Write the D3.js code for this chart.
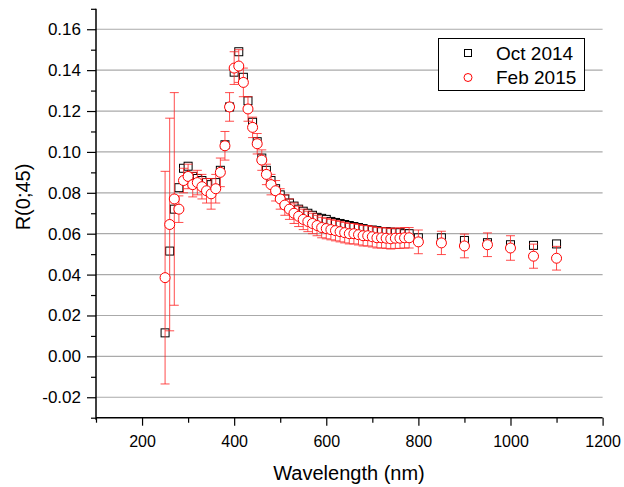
<!DOCTYPE html>
<html>
<head>
<meta charset="utf-8">
<script src="https://cdn.jsdelivr.net/npm/d3@7"></script>
<style>
  body { margin: 0; background: #fff; }
  text { font-family: Arial, "Liberation Sans", sans-serif; fill: #000; }
</style>
</head>
<body>
<div id="chart"></div>
<script>
// wavelengths (nm), shared by both series
const wavelengths = [250, 260, 270, 280, 290, 300, 310, 320, 330, 340, 350, 360, 370, 380, 390,
  400, 410, 420, 430, 440, 450, 460, 470, 480, 490, 500, 510, 520, 530, 540, 550, 560, 570, 580, 590,
  600, 610, 620, 630, 640, 650, 660, 670, 680, 690, 700, 710, 720, 730, 740, 750, 760, 770, 780,
  800, 850, 900, 950, 1000, 1050, 1100];

const oct2014 = [0.0115, 0.0515, 0.072, 0.0825, 0.092, 0.093, 0.088, 0.087, 0.086, 0.085, 0.084, 0.085, 0.091, 0.1035, 0.122,
  0.139, 0.149, 0.1365, 0.125, 0.1145, 0.105, 0.097, 0.091, 0.086, 0.082, 0.079, 0.077, 0.075, 0.0735, 0.072, 0.071, 0.070, 0.069, 0.068, 0.0675,
  0.067, 0.066, 0.0655, 0.065, 0.0645, 0.064, 0.0635, 0.063, 0.0625, 0.062, 0.0618, 0.0615, 0.061, 0.061, 0.0608, 0.0605, 0.0605, 0.060, 0.060,
  0.058, 0.058, 0.0567, 0.0556, 0.0546, 0.0543, 0.055];

const feb2015 = [0.0385, 0.0645, 0.077, 0.072, 0.086, 0.088, 0.084, 0.085, 0.083, 0.081, 0.0795, 0.082, 0.090, 0.103, 0.122,
  0.141, 0.142, 0.134, 0.121, 0.112, 0.104, 0.096, 0.089, 0.084, 0.081, 0.077, 0.074, 0.072, 0.070, 0.0685, 0.067, 0.066, 0.065, 0.064, 0.063,
  0.0625, 0.062, 0.0615, 0.061, 0.0605, 0.060, 0.060, 0.0595, 0.059, 0.059, 0.0585, 0.058, 0.058, 0.0578, 0.0575, 0.0578, 0.0578, 0.058, 0.058,
  0.056, 0.0555, 0.054, 0.0546, 0.053, 0.049, 0.048];

const feb2015Err = [0.052, 0.052, 0.052, 0.0065, 0.006, 0.006, 0.006, 0.006, 0.006, 0.006, 0.0075, 0.007, 0.007, 0.007, 0.007,
  0.008, 0.008, 0.007, 0.006, 0.005, 0.005, 0.005, 0.005, 0.005, 0.005, 0.005, 0.005, 0.005, 0.005, 0.005, 0.005, 0.005, 0.005, 0.005, 0.005,
  0.005, 0.005, 0.005, 0.005, 0.005, 0.005, 0.005, 0.005, 0.005, 0.005, 0.005, 0.005, 0.005, 0.005, 0.005, 0.005, 0.005, 0.005, 0.005,
  0.0058, 0.0057, 0.0058, 0.0058, 0.006, 0.0059, 0.0058];

const xTicks = [200, 400, 600, 800, 1000, 1200];
const xMinorTicks = [100, 300, 500, 700, 900, 1100];
const yTicks = [-0.02, 0.00, 0.02, 0.04, 0.06, 0.08, 0.10, 0.12, 0.14, 0.16];
const yMinorTicks = [-0.03, -0.01, 0.01, 0.03, 0.05, 0.07, 0.09, 0.11, 0.13, 0.15, 0.17];
const seriesNames = ['Oct 2014', 'Feb 2015'];

const WIDTH = 624;
const HEIGHT = 487;
const LEFT = 96;
const RIGHT = 602.6;
const TOP = 8.8;
const BOTTOM = 417.7;

const x = d3.scaleLinear().domain([100, 1200]).range([LEFT, RIGHT]);
const y = d3.scaleLinear().domain([-0.03, 0.17]).range([BOTTOM, TOP]);

// plain hyphen for negatives, like the original plot
const yFormat = d => d3.format('.2f')(d).replace('\u2212', '-');

const svg = d3.select('#chart')
  .append('svg')
  .attr('width', WIDTH)
  .attr('height', HEIGHT);

svg.append('rect').attr('width', WIDTH).attr('height', HEIGHT).attr('fill', '#fff');

// horizontal grid lines
svg.append('g')
  .selectAll('line')
  .data(yTicks)
  .enter()
  .append('line')
  .attr('x1', LEFT)
  .attr('x2', RIGHT)
  .attr('y1', d => y(d))
  .attr('y2', d => y(d))
  .attr('stroke', '#aaa')
  .attr('stroke-width', 1.2);

// axes (major + minor ticks)
const xAxis = svg.append('g')
  .attr('transform', `translate(0, ${BOTTOM})`)
  .call(d3.axisBottom(x).tickValues(xTicks).tickSize(8).tickPadding(10).tickFormat(d3.format('d')));
svg.append('g')
  .attr('transform', `translate(0, ${BOTTOM})`)
  .call(d3.axisBottom(x).tickValues(xMinorTicks).tickSize(5).tickFormat(''))
  .select('.domain').remove();

const yAxis = svg.append('g')
  .attr('transform', `translate(${LEFT}, 0)`)
  .call(d3.axisLeft(y).tickValues(yTicks).tickSize(9).tickPadding(6).tickFormat(yFormat));
svg.append('g')
  .attr('transform', `translate(${LEFT}, 0)`)
  .call(d3.axisLeft(y).tickValues(yMinorTicks).tickSize(5).tickFormat(''))
  .select('.domain').remove();

xAxis.selectAll('text').style('font-size', '16px').attr('fill', '#000');
yAxis.selectAll('text').style('font-size', '17px').attr('fill', '#000');
xAxis.select('.domain').remove();
yAxis.select('.domain').remove();
svg.selectAll('.tick line').attr('stroke', '#000').attr('stroke-width', 1.2);

svg.append('line')
  .attr('x1', LEFT).attr('x2', RIGHT)
  .attr('y1', BOTTOM).attr('y2', BOTTOM)
  .attr('stroke', '#000').attr('stroke-width', 1.5);
svg.append('line')
  .attr('x1', LEFT).attr('x2', LEFT)
  .attr('y1', TOP).attr('y2', BOTTOM + 2)
  .attr('stroke', '#000').attr('stroke-width', 1.5);

// axis titles
svg.append('text')
  .attr('x', 349)
  .attr('y', 480)
  .attr('text-anchor', 'middle')
  .style('font-size', '20px')
  .text('Wavelength (nm)');

svg.append('text')
  .attr('transform', 'rotate(-90)')
  .attr('x', -197)
  .attr('y', 30)
  .attr('text-anchor', 'middle')
  .style('font-size', '20px')
  .text('R(0;45)');

const octData = wavelengths.map((w, i) => ({w: w, v: oct2014[i]}));
const febData = wavelengths.map((w, i) => ({w: w, v: feb2015[i], e: feb2015Err[i]}));

// Oct 2014 squares
svg.append('g')
  .selectAll('rect')
  .data(octData)
  .enter()
  .append('rect')
  .attr('x', d => x(d.w) - 4)
  .attr('y', d => y(d.v) - 4)
  .attr('width', 8)
  .attr('height', 8)
  .attr('fill', '#fff')
  .attr('stroke', '#000')
  .attr('stroke-width', 1);

// Feb 2015 error bars
const err = svg.append('g')
  .attr('stroke', '#ff2020')
  .attr('stroke-opacity', 0.8)
  .attr('stroke-width', 1);

err.selectAll('line.bar')
  .data(febData)
  .enter()
  .append('line')
  .attr('class', 'bar')
  .attr('x1', d => x(d.w)).attr('x2', d => x(d.w))
  .attr('y1', d => y(d.v - d.e)).attr('y2', d => y(d.v + d.e));

err.selectAll('line.capTop')
  .data(febData)
  .enter()
  .append('line')
  .attr('class', 'capTop')
  .attr('x1', d => x(d.w) - 4.5).attr('x2', d => x(d.w) + 4.5)
  .attr('y1', d => y(d.v + d.e)).attr('y2', d => y(d.v + d.e));

err.selectAll('line.capBottom')
  .data(febData)
  .enter()
  .append('line')
  .attr('class', 'capBottom')
  .attr('x1', d => x(d.w) - 4.5).attr('x2', d => x(d.w) + 4.5)
  .attr('y1', d => y(d.v - d.e)).attr('y2', d => y(d.v - d.e));

// Feb 2015 circles
svg.append('g')
  .selectAll('circle')
  .data(febData)
  .enter()
  .append('circle')
  .attr('cx', d => x(d.w))
  .attr('cy', d => y(d.v))
  .attr('r', 5)
  .attr('fill', '#fff')
  .attr('stroke', '#ff0000')
  .attr('stroke-width', 1);

// legend
const legend = svg.append('g');
legend.append('rect')
  .attr('x', 438.5).attr('y', 38.5)
  .attr('width', 146).attr('height', 52)
  .attr('fill', '#fff')
  .attr('stroke', '#000')
  .attr('stroke-width', 1);

legend.append('rect')
  .attr('x', 464.5).attr('y', 49.5)
  .attr('width', 7).attr('height', 7)
  .attr('fill', '#fff').attr('stroke', '#000');
legend.append('circle')
  .attr('cx', 468).attr('cy', 77.5).attr('r', 4)
  .attr('fill', '#fff').attr('stroke', '#ff0000');

legend.selectAll('text')
  .data(seriesNames)
  .enter()
  .append('text')
  .attr('x', 496)
  .attr('y', (d, i) => 60 + i * 23.5)
  .style('font-size', '19px')
  .text(d => d);
</script>
</body>
</html>
